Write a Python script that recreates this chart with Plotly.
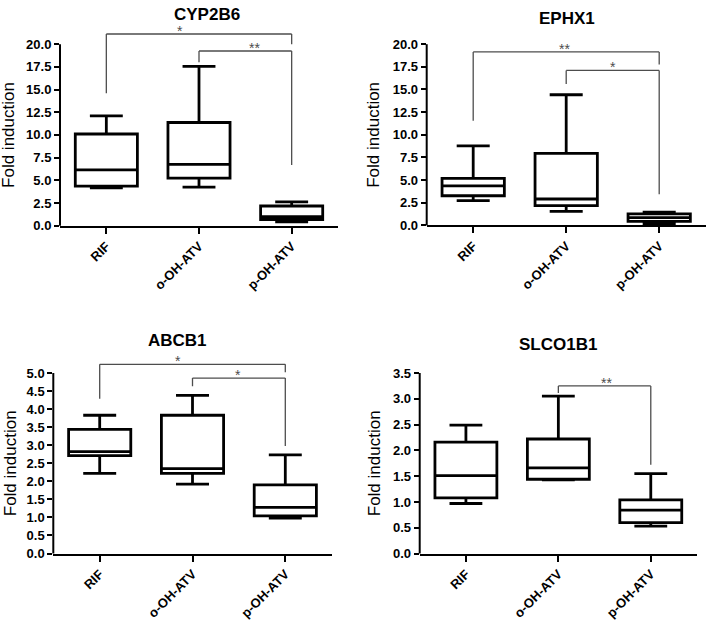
import plotly.graph_objects as go

# ---------------- data ----------------
categories = ["RIF", "o-OH-ATV", "p-OH-ATV"]

panel_titles = ["CYP2B6", "EPHX1", "ABCB1", "SLCO1B1"]

# box statistics per panel (RIF, o-OH-ATV, p-OH-ATV)
cyp2b6_min = [4.17, 4.24, 0.42]
cyp2b6_q1 = [4.35, 5.25, 0.68]
cyp2b6_med = [6.15, 6.76, 1.00]
cyp2b6_q3 = [10.10, 11.37, 2.17]
cyp2b6_max = [12.09, 17.55, 2.63]

ephx1_min = [2.73, 1.55, 0.17]
ephx1_q1 = [3.27, 2.19, 0.44]
ephx1_med = [4.35, 2.91, 0.86]
ephx1_q3 = [5.18, 7.95, 1.27]
ephx1_max = [8.78, 14.42, 1.45]

abcb1_min = [2.22, 1.92, 0.98]
abcb1_q1 = [2.71, 2.22, 1.04]
abcb1_med = [2.82, 2.35, 1.28]
abcb1_q3 = [3.44, 3.83, 1.90]
abcb1_max = [3.83, 4.38, 2.73]

slco1b1_min = [0.97, 1.43, 0.53]
slco1b1_q1 = [1.08, 1.44, 0.60]
slco1b1_med = [1.51, 1.66, 0.84]
slco1b1_q3 = [2.16, 2.22, 1.04]
slco1b1_max = [2.49, 3.05, 1.55]

# y tick labels per panel
cyp2b6_ticks = [0.0, 2.5, 5.0, 7.5, 10.0, 12.5, 15.0, 17.5, 20.0]
ephx1_ticks = [0.0, 2.5, 5.0, 7.5, 10.0, 12.5, 15.0, 17.5, 20.0]
abcb1_ticks = [0.0, 0.5, 1.0, 1.5, 2.0, 2.5, 3.0, 3.5, 4.0, 4.5, 5.0]
slco1b1_ticks = [0.0, 0.5, 1.0, 1.5, 2.0, 2.5, 3.0, 3.5]

# significance brackets:
# (from cat, to cat, bracket y, left leg end, right leg end, label, label x in category units)
cyp2b6_sig = [(0, 2, 21.12, 14.6, 20.0, "*", 0.79), (1, 2, 19.25, 18.0, 6.7, "**", 1.6)]
ephx1_sig = [(0, 2, 19.15, 11.55, 17.77, "**", 0.98), (1, 2, 17.1, 15.6, 3.45, "*", 1.5)]
abcb1_sig = [(0, 2, 5.24, 4.29, 5.02, "*", 0.84), (1, 2, 4.86, 4.63, 2.98, "*", 1.49)]
slco1b1_sig = [(1, 2, 3.25, 3.11, 1.72, "**", 1.52)]

# ---------------- layout geometry (pixels) ----------------
W, H = 709, 634
FONT = "Liberation Sans, Arial, sans-serif"

panels = [
    dict(title=panel_titles[0], mn=cyp2b6_min, q1=cyp2b6_q1, med=cyp2b6_med, q3=cyp2b6_q3, mx=cyp2b6_max,
         ticks=cyp2b6_ticks, sig=cyp2b6_sig, left=60, right=338, y0=225.3, scale=9.265, top=21.6,
         title_xy=(207, 10), ytitle_x=9),
    dict(title=panel_titles[1], mn=ephx1_min, q1=ephx1_q1, med=ephx1_med, q3=ephx1_q3, mx=ephx1_max,
         ticks=ephx1_ticks, sig=ephx1_sig, left=426.7, right=705.7, y0=225, scale=9.25, top=20.3,
         title_xy=(567, 14), ytitle_x=374),
    dict(title=panel_titles[2], mn=abcb1_min, q1=abcb1_q1, med=abcb1_med, q3=abcb1_q3, mx=abcb1_max,
         ticks=abcb1_ticks, sig=abcb1_sig, left=53.3, right=331.7, y0=560, scale=36.86, top=5.4,
         title_xy=(177, 343), ytitle_x=10),
    dict(title=panel_titles[3], mn=slco1b1_min, q1=slco1b1_q1, med=slco1b1_med, q3=slco1b1_q3, mx=slco1b1_max,
         ticks=slco1b1_ticks, sig=slco1b1_sig, left=419.7, right=697, y0=560, scale=52.66, top=3.55,
         title_xy=(558, 347), ytitle_x=374),
]

fig = go.Figure()
layout = dict(
    width=W, height=H, margin=dict(l=0, r=0, t=0, b=0),
    paper_bgcolor="white", plot_bgcolor="white", showlegend=False,
    font=dict(family=FONT, color="black"),
)
shapes = []
annotations = []
SIG_COLOR = "#4d4d4d"

for i, p in enumerate(panels):
    n = "" if i == 0 else str(i + 1)
    xa, ya = "xaxis" + n, "yaxis" + n
    xr, yr = "x" + n, "y" + n

    fig.add_trace(go.Box(
        x=categories, q1=p["q1"], median=p["med"], q3=p["q3"],
        lowerfence=p["mn"], upperfence=p["mx"],
        xaxis=xr, yaxis=yr, width=0.67, whiskerwidth=0.53,
        line=dict(color="black", width=2.8), fillcolor="rgba(0,0,0,0)",
        boxpoints=False, hoverinfo="skip",
    ))

    top_px = p["y0"] - p["top"] * p["scale"]
    layout[xa] = dict(
        domain=[p["left"] / W, p["right"] / W], anchor=yr,
        type="category", range=[-0.5, 2.5], categoryorder="array", categoryarray=categories,
        showline=True, linecolor="black", linewidth=2,
        ticks="outside", ticklen=6, tickwidth=2, tickcolor="black",
        tickangle=-45, tickfont=dict(family=FONT, size=13, weight="bold"),
        showgrid=False, zeroline=False, fixedrange=True,
    )
    layout[ya] = dict(
        domain=[1 - p["y0"] / H, 1 - top_px / H], anchor=xr,
        range=[0, p["top"]], showline=False,
        tickvals=p["ticks"], ticktext=["%.1f" % t for t in p["ticks"]],
        ticks="outside", ticklen=5, tickwidth=2, tickcolor="black",
        tickfont=dict(family=FONT, size=13, weight="bold"),
        showgrid=False, zeroline=False, fixedrange=True,
    )
    # y axis line drawn only up to the last tick
    shapes.append(dict(type="line", xref=xr + " domain", yref=yr + " domain",
                       x0=0, x1=0, y0=0, y1=max(p["ticks"]) / p["top"],
                       line=dict(color="black", width=2)))
    # significance brackets
    for a, b, yb, la, lb, lab, lx in p["sig"]:
        ca, cb = categories[a], categories[b]
        shapes.append(dict(type="line", xref=xr, yref=yr, x0=ca, x1=cb, y0=yb, y1=yb,
                           line=dict(color=SIG_COLOR, width=1.3)))
        shapes.append(dict(type="line", xref=xr, yref=yr, x0=ca, x1=ca, y0=la, y1=yb,
                           line=dict(color=SIG_COLOR, width=1.3)))
        shapes.append(dict(type="line", xref=xr, yref=yr, x0=cb, x1=cb, y0=lb, y1=yb,
                           line=dict(color=SIG_COLOR, width=1.3)))
        annotations.append(dict(xref=xr, yref=yr, x=lx, y=yb, text=lab,
                                showarrow=False, yanchor="bottom", yshift=-6, borderpad=0,
                                font=dict(family=FONT, size=14, color=SIG_COLOR)))
    # panel title
    annotations.append(dict(xref="paper", yref="paper", x=p["title_xy"][0] / W, y=1 - p["title_xy"][1] / H,
                            text="<b>%s</b>" % p["title"], showarrow=False, borderpad=0,
                            xanchor="center", yanchor="middle",
                            font=dict(family=FONT, size=17, color="black")))
    # y axis title
    annotations.append(dict(xref="paper", yref=yr, x=p["ytitle_x"] / W,
                            y=max(p["ticks"]) / 2, text="Fold induction", textangle=-90,
                            showarrow=False, xanchor="center", yanchor="middle",
                            font=dict(family=FONT, size=17, color="black")))

layout["shapes"] = shapes
layout["annotations"] = annotations
fig.update_layout(**layout)
fig.write_html("out.html", config={"displayModeBar": False},
               post_script="document.body.style.margin='0';document.body.style.overflow='hidden';")
